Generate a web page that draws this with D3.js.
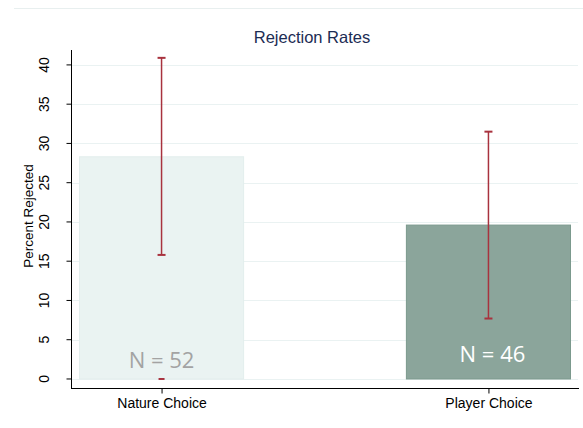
<!DOCTYPE html>
<html>
<head>
<meta charset="utf-8">
<script src="https://cdn.jsdelivr.net/npm/d3@7"></script>
<style>
  body { margin: 0; background: #fff; }
  svg { display: block; font-family: "Liberation Sans", Arial, sans-serif; }
</style>
</head>
<body>
<div id="master"></div>
<script>
// data
const categories = ["Nature Choice", "Player Choice"]
const rates = [28.3, 19.6]
const ciLow = [15.8, 7.7]
const ciHigh = [40.9, 31.5]
const nLabels = ["N = 52", "N = 46"]
const strayMark = [0, null]   // small red dash at zero under the first bar
const yTicks = [0, 5, 10, 15, 20, 25, 30, 35, 40]

const w = 583, h = 428
const barColors = ["#eaf3f2", "#8ba59b"]
const barStroke = ["#e3eeed", "#7b998d"]
const nColors = ["#a3a3a3", "#ffffff"]
const red = "#a8323e"

const svg = d3.select("#master").append("svg").attr("width", w).attr("height", h)

// faint outer frame line at the top
svg.append("line").attr("x1", 14).attr("x2", w).attr("y1", 8.5).attr("y2", 8.5)
  .attr("stroke", "#e8efef").attr("stroke-width", 1)

const yScale = d3.scaleLinear().domain([-1.15, 41.9]).range([388, 50])
const xScale = d3.scalePoint().domain(categories).range([71, 579]).padding(0.277)
const barW = xScale.step() * 0.502

// grid
svg.append("g").selectAll("line").data(yTicks).enter().append("line")
  .attr("x1", 72).attr("x2", 578)
  .attr("y1", d => Math.round(yScale(d)) + 0.5).attr("y2", d => Math.round(yScale(d)) + 0.5)
  .attr("stroke", "#eaf2f2").attr("stroke-width", 1.2)

// bars
svg.append("g").selectAll("rect").data(categories).enter().append("rect")
  .attr("x", d => xScale(d) - barW / 2)
  .attr("width", barW)
  .attr("y", (d, i) => yScale(rates[i]))
  .attr("height", (d, i) => yScale(0) - yScale(rates[i]))
  .attr("fill", (d, i) => barColors[i])
  .attr("stroke", (d, i) => barStroke[i])
  .attr("stroke-width", 1)

// error bars
const eb = svg.append("g").attr("stroke", red).attr("stroke-width", 1.5)
categories.forEach((c, i) => {
  let cx = xScale(c)
  eb.append("line").attr("x1", cx).attr("x2", cx).attr("y1", yScale(ciLow[i])).attr("y2", yScale(ciHigh[i]))
  eb.append("line").attr("x1", cx - 4).attr("x2", cx + 4).attr("y1", yScale(ciLow[i])).attr("y2", yScale(ciLow[i])).attr("stroke-width", 2)
  eb.append("line").attr("x1", cx - 4).attr("x2", cx + 4).attr("y1", yScale(ciHigh[i])).attr("y2", yScale(ciHigh[i])).attr("stroke-width", 2)
  if (strayMark[i] != null) {
    eb.append("line").attr("x1", cx - 3).attr("x2", cx + 3).attr("y1", yScale(strayMark[i])).attr("y2", yScale(strayMark[i])).attr("stroke-width", 2)
  }
})

// N labels
svg.append("g").selectAll("text").data(nLabels).enter().append("text")
  .attr("x", (d, i) => xScale(categories[i]) + (i == 0 ? 0 : 4))
  .attr("y", (d, i) => i == 0 ? 368 : 362)
  .attr("text-anchor", "middle")
  .attr("font-family", "'Open Sans', 'Noto Sans', sans-serif")
  .attr("font-size", 22)
  .attr("fill", (d, i) => nColors[i])
  .text(d => d)

// y axis
const yAxis = d3.axisLeft(yScale).tickValues(yTicks).tickSize(5).tickPadding(4).tickSizeOuter(0)
const gy = svg.append("g").attr("transform", "translate(71.5,0)").call(yAxis)
gy.select(".domain").attr("d", "M0,50V388").attr("stroke", "#000")
gy.selectAll(".tick").attr("transform", null)
gy.selectAll(".tick line").attr("y1", d => yScale(d)).attr("y2", d => yScale(d))
gy.selectAll("text")
  .attr("x", 0).attr("dx", 0).attr("dy", 0)
  .attr("y", -23)
  .attr("transform", d => "translate(0," + yScale(d) + ") rotate(-90)")
  .attr("text-anchor", "middle")
  .attr("font-size", 14)
  .attr("fill", "#000")
  .attr("font-family", "'Liberation Sans', Arial, sans-serif")

// x axis
const xAxis = d3.axisBottom(xScale).tickSize(5).tickPadding(5).tickSizeOuter(0)
const gx = svg.append("g").attr("transform", "translate(0,388.5)").call(xAxis)
gx.select(".domain").attr("d", "M71,0H579").attr("stroke", "#000")
gx.selectAll("text").attr("font-size", 14).attr("fill", "#000")
  .attr("font-family", "'Liberation Sans', Arial, sans-serif")

// axis title
svg.append("text")
  .attr("transform", "translate(33,216) rotate(-90)")
  .attr("text-anchor", "middle")
  .attr("font-size", 13.5)
  .text("Percent Rejected")

// title
svg.append("text")
  .attr("x", 312).attr("y", 43)
  .attr("text-anchor", "middle")
  .attr("font-size", 16.5)
  .attr("fill", "#1c2c54")
  .text("Rejection Rates")
</script>
</body>
</html>
